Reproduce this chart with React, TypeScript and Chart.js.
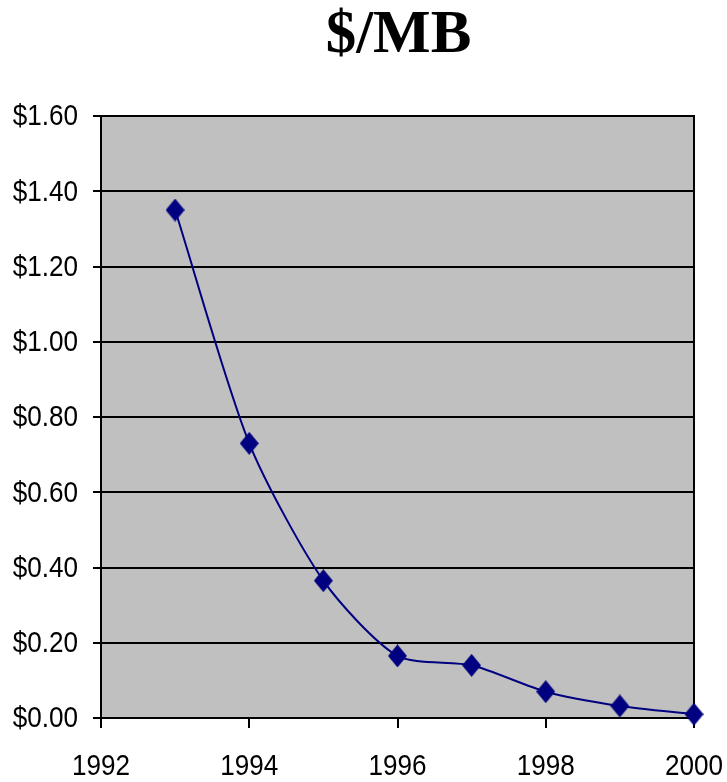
import React, { useEffect, useRef } from "react";
import { Chart, registerables } from "chart.js";

Chart.register(...registerables);

const years = [1993, 1994, 1995, 1996, 1997, 1998, 1999, 2000];
const pricePerMB = [1.35, 0.73, 0.365, 0.165, 0.14, 0.07, 0.032, 0.01];
const chartTitle = "$/MB";
const xMin = 1992;
const xMax = 2000;
const yMax = 1.6;

const labelFont = "30px 'Liberation Sans', Arial, sans-serif";
const labelSqueeze = 0.87;

function makeDiamond(): HTMLCanvasElement {
  const c = document.createElement("canvas");
  const w = 19;
  const h = 23;
  c.width = w;
  c.height = h;
  const g = c.getContext("2d")!;
  g.fillStyle = "#000080";
  g.beginPath();
  g.moveTo(w / 2, 0);
  g.lineTo(w, h / 2);
  g.lineTo(w / 2, h);
  g.lineTo(0, h / 2);
  g.closePath();
  g.fill();
  return c;
}

function drawSqueezed(ctx: CanvasRenderingContext2D, text: string, x: number, y: number, align: "right" | "center") {
  ctx.save();
  ctx.translate(x, y);
  ctx.scale(labelSqueeze, 1);
  ctx.textAlign = align;
  ctx.textBaseline = "middle";
  ctx.fillText(text, 0, 0);
  ctx.restore();
}

const framePlugin = {
  id: "frame",
  beforeDraw(chart: any) {
    const { ctx, chartArea } = chart;
    ctx.save();
    ctx.fillStyle = "#C0C0C0";
    ctx.fillRect(chartArea.left, chartArea.top, chartArea.right - chartArea.left, chartArea.bottom - chartArea.top);
    ctx.restore();
  },
  beforeDatasetsDraw(chart: any) {
    const { ctx, chartArea } = chart;
    ctx.save();
    ctx.strokeStyle = "#000000";
    ctx.lineWidth = 2;
    ctx.beginPath();
    ctx.moveTo(chartArea.right, chartArea.top - 1);
    ctx.lineTo(chartArea.right, chartArea.bottom + 1);
    ctx.stroke();
    ctx.restore();
  },
  afterDraw(chart: any) {
    const { ctx, chartArea, scales } = chart;
    ctx.save();
    ctx.fillStyle = "#000000";
    ctx.font = "bold 61px 'Liberation Serif', 'Times New Roman', serif";
    ctx.textAlign = "center";
    ctx.textBaseline = "alphabetic";
    ctx.fillText(chartTitle, (chartArea.left + chartArea.right) / 2 + 1, 52);

    ctx.font = labelFont;
    const ys = scales.y;
    ys.ticks.forEach((t: any) => {
      const py = ys.getPixelForValue(t.value);
      drawSqueezed(ctx, "$" + Number(t.value).toFixed(2), chartArea.left - 23, py + 1, "right");
    });
    const xs = scales.x;
    xs.ticks.forEach((t: any) => {
      const px = xs.getPixelForValue(t.value);
      drawSqueezed(ctx, String(t.value), px, chartArea.bottom + 49, "center");
    });
    ctx.restore();
  },
};

export default function App() {
  const ref = useRef<HTMLCanvasElement | null>(null);
  useEffect(() => {
    document.body.style.margin = "0";
    if (!ref.current) return;
    const diamond = makeDiamond();
    const chart = new Chart(ref.current, {
      type: "line",
      data: {
        datasets: [
          {
            data: years.map((y, i) => ({ x: y, y: pricePerMB[i] })),
            borderColor: "#000080",
            backgroundColor: "#000080",
            borderWidth: 2,
            pointStyle: diamond as any,
            pointRadius: 10,
            tension: 0.25,
            clip: false as any,
          },
        ],
      },
      options: {
        animation: false,
        responsive: false,
        maintainAspectRatio: false,
        layout: { padding: { top: 116, right: 0, left: 0, bottom: 0 } },
        plugins: { legend: { display: false }, tooltip: { enabled: false }, title: { display: false } },
        scales: {
          x: {
            type: "linear",
            min: xMin,
            max: xMax,
            afterFit: (s: any) => {
              s.height = 64;
              s.paddingLeft = 0;
              s.paddingRight = 33;
            },
            ticks: {
              display: false,
              stepSize: 2,
              callback: (v: any) => String(v),
            },
            grid: {
              drawOnChartArea: false,
              drawTicks: true,
              tickLength: 10,
              color: "#000000",
              lineWidth: 2,
            },
            border: { display: true, color: "#000000", width: 2 },
          },
          y: {
            min: 0,
            max: yMax,
            afterFit: (s: any) => {
              s.width = 101;
            },
            ticks: {
              display: false,
              stepSize: 0.2,
              callback: (v: any) => "$" + Number(v).toFixed(2),
            },
            grid: {
              drawOnChartArea: true,
              drawTicks: true,
              tickLength: 8,
              color: "#000000",
              lineWidth: 2,
            },
            border: { display: true, color: "#000000", width: 2 },
          },
        },
      },
      plugins: [framePlugin],
    });
    return () => chart.destroy();
  }, []);
  return (
    <div style={{ position: "absolute", left: 0, top: 0, width: 727, height: 782 }}>
      <canvas ref={ref} width={727} height={782} style={{ width: 727, height: 782, display: "block" }} />
    </div>
  );
}
